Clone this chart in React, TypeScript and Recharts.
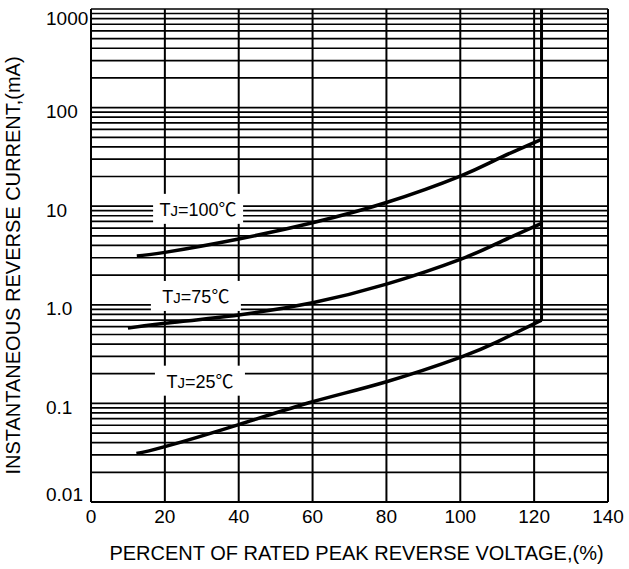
import React from 'react';
import {CartesianGrid, Label, Line, LineChart, ReferenceDot, XAxis, YAxis} from 'recharts';

// x axis: percent of rated peak reverse voltage
const xTicks = [0, 20, 40, 60, 80, 100, 120, 140];

// y axis: decades with labels, minor lines at 2..9 of each decade
const decades = [0.01, 0.1, 1, 10, 100, 1000];
const decadeLabels = ['0.01', '0.1', '1.0', '10', '100', '1000'];
const minorSteps = [1, 2, 3, 4, 5, 6, 7, 8, 9];

// curves
const tj100X = [12.4, 20, 40, 60, 80, 100, 110, 122];
const tj100Y = [3.13, 3.4, 4.65, 6.8, 10.9, 20.2, 30, 47.7];
const tj75X = [10, 20, 40, 60, 80, 100, 110, 122];
const tj75Y = [0.58, 0.65, 0.79, 1.05, 1.62, 2.89, 4.2, 6.7];
const tj25X = [12.3, 20, 40, 60, 80, 100, 110, 122];
const tj25Y = [0.031, 0.0364, 0.061, 0.104, 0.166, 0.293, 0.42, 0.7];
const limitX = [122, 122];
const limitY = [0.7, 1000];

const seriesNames = ['100', '75', '25'];

const toPoints = (xs: number[], ys: number[]) => xs.map((x, i) => ({x, y: ys[i]}));

const yTicks = [
	...decades.slice(0, -1).flatMap((d) => minorSteps.map((m) => +(d * m).toPrecision(3))),
	decades[decades.length - 1],
];

const FONT = '"Liberation Sans", Arial, "Noto Sans CJK SC", sans-serif';

const YTick = (props: any) => {
	const {y, payload} = props;
	const i = decades.indexOf(payload.value);
	if (i < 0) return null;
	let dy = 4;
	if (i === decades.length - 1) dy = 9;
	if (i === 0) dy = -8;
	return (
		<text x={46} y={y + dy} textAnchor="start" dominantBaseline="central" fontSize={19} fontFamily={FONT} fill="#000">
			{decadeLabels[i]}
		</text>
	);
};

const TempTag = (name: string) => (props: any) => {
	const {cx, cy} = props;
	return (
		<g>
			<rect x={cx - 45} y={cy - 15} width={90} height={30} fill="#fff"/>
			<text x={cx} y={cy + 1} textAnchor="middle" dominantBaseline="central" fontSize={18} fontFamily={FONT} fill="#000">
				T<tspan fontSize={15}>J</tspan>={name}℃
			</text>
		</g>
	);
};

const App = () => {
	return (
		<div style={{position: 'absolute', left: 0, top: 0, background: '#fff'}}>
			<LineChart width={629} height={569} margin={{top: 9, right: 21, bottom: 0, left: 0}}>
				<CartesianGrid vertical={false} stroke="#000" strokeWidth={1.7} strokeOpacity={1}/>
				<CartesianGrid horizontal={false} stroke="#000" strokeWidth={2} strokeOpacity={1}/>
				<XAxis
					type="number"
					dataKey="x"
					domain={[0, 140]}
					ticks={xTicks}
					tickLine={false}
					axisLine={{stroke: '#000', strokeWidth: 2}}
					height={67}
					tick={{fill: '#000', fontSize: 19, fontFamily: FONT}}
					allowDataOverflow
				>
					<Label
						content={(p: any) => (
							<text
								x={p.viewBox.x + p.viewBox.width / 2 + 7}
								y={p.viewBox.y + 51}
								textAnchor="middle"
								dominantBaseline="central"
								fontSize={20}
								fontFamily={FONT}
								fill="#000"
							>
								PERCENT OF RATED PEAK REVERSE VOLTAGE,(%)
							</text>
						)}
					/>
				</XAxis>
				<YAxis
					type="number"
					dataKey="y"
					scale="log"
					domain={[0.01, 1000]}
					ticks={yTicks}
					interval={0}
					tickLine={false}
					axisLine={{stroke: '#000', strokeWidth: 2}}
					width={91}
					tick={<YTick/>}
					allowDataOverflow
				>
					<Label
						content={(p: any) => {
							const cy = p.viewBox.y + p.viewBox.height / 2 + 10;
							return (
								<text
									x={13}
									y={cy}
									transform={`rotate(-90, 13, ${cy})`}
									textAnchor="middle"
									dominantBaseline="central"
									fontSize={20}
									fontFamily={FONT}
									fill="#000"
								>
									INSTANTANEOUS REVERSE CURRENT,(mA)
								</text>
							);
						}}
					/>
				</YAxis>
				<Line data={toPoints(tj100X, tj100Y)} dataKey="y" type="natural" stroke="#000" strokeWidth={3.5} dot={false} isAnimationActive={false}/>
				<Line data={toPoints(tj75X, tj75Y)} dataKey="y" type="natural" stroke="#000" strokeWidth={3.5} dot={false} isAnimationActive={false}/>
				<Line data={toPoints(tj25X, tj25Y)} dataKey="y" type="natural" stroke="#000" strokeWidth={3.5} dot={false} isAnimationActive={false}/>
				<Line data={toPoints(limitX, limitY)} dataKey="y" type="linear" stroke="#000" strokeWidth={3} dot={false} isAnimationActive={false}/>
				<ReferenceDot x={29} y={9.4} r={0} shape={TempTag(seriesNames[0])}/>
				<ReferenceDot x={28.4} y={1.23} r={0} shape={TempTag(seriesNames[1])}/>
				<ReferenceDot x={29.5} y={0.17} r={0} shape={TempTag(seriesNames[2])}/>
			</LineChart>
		</div>
	);
};

export default App;
